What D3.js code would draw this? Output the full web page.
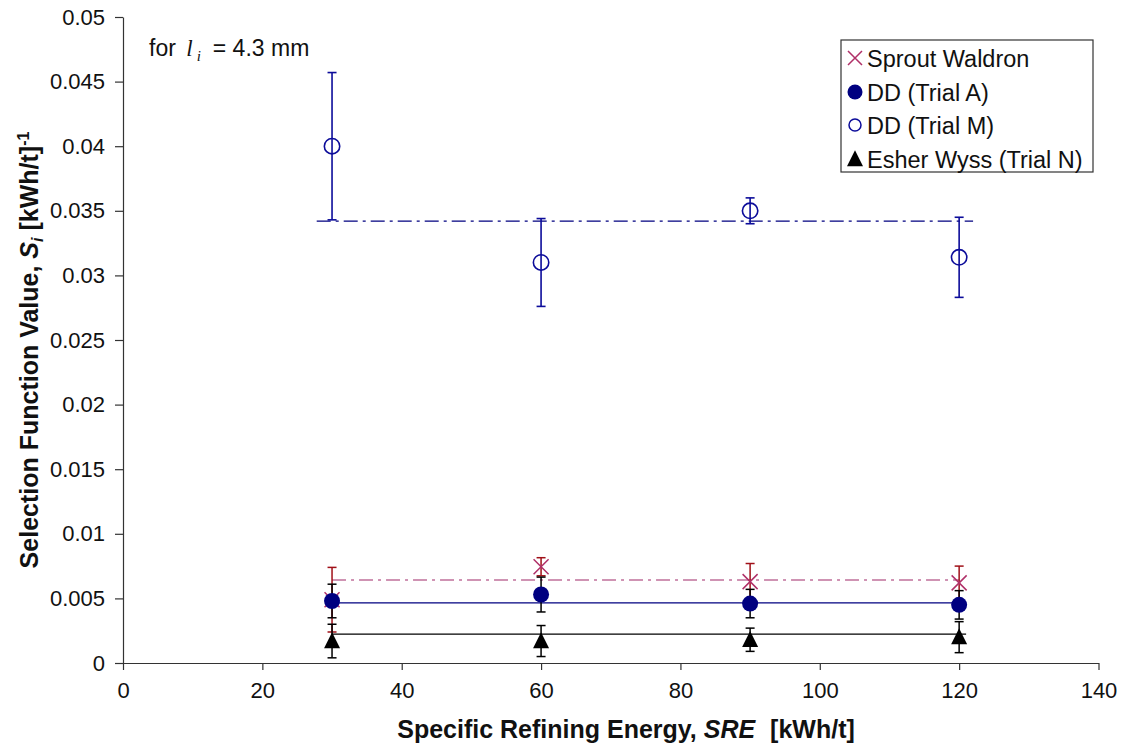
<!DOCTYPE html>
<html><head><meta charset="utf-8">
<script src="https://cdn.jsdelivr.net/npm/d3@7"></script>
<style>body{margin:0;background:#fff;} svg{display:block;font-family:"Liberation Sans",Arial,sans-serif;}</style>
</head><body>
<svg id="c" width="1123" height="750"></svg>
<script>
const xValues = [30, 60, 90, 120];
const xTicks = [0, 20, 40, 60, 80, 100, 120, 140];
const yTicks = [0, 0.005, 0.01, 0.015, 0.02, 0.025, 0.03, 0.035, 0.04, 0.045, 0.05];
const yTickLabels = ["0", "0.005", "0.01", "0.015", "0.02", "0.025", "0.03", "0.035", "0.04", "0.045", "0.05"];
const seriesNames = ["Sprout Waldron", "DD (Trial A)", "DD (Trial M)", "Esher Wyss (Trial N)"];
const swValues = [0.0049, 0.00745, 0.0063, 0.0062];
const swErr = [0.0025, 0.0007, 0.0014, 0.0013];
const ddAValues = [0.0048, 0.0053, 0.0046, 0.0045];
const ddAErr = [0.0013, 0.00135, 0.0011, 0.0011];
const ddMValues = [0.0400, 0.0310, 0.0350, 0.0314];
const ddMErr = [0.0057, 0.0034, 0.0010, 0.0031];
const ewValues = [0.0017, 0.0017, 0.0018, 0.0020];
const ewErr = [0.0013, 0.0012, 0.0009, 0.0012];
// average lines: [value, xStart, xEnd]
const swMean = [0.00642, 30, 120];
const ddAMean = [0.00465, 30, 120];
const ddMMean = [0.0342, 27.8, 122];
const ewMean = [0.00224, 30, 121];

const svg = d3.select("#c");
const x = d3.scaleLinear().domain([0, 140]).range([123, 1098.5]);
const y = d3.scaleLinear().domain([0, 0.05]).range([663, 17]);

const colM = "#0c0c9a", colA = "#000080", colSW = "#b03068", colSWerr = "#a01018", colSWline = "#c0709a";

// axes
const yAxis = d3.axisLeft(y).tickValues(yTicks).tickFormat((d, i) => yTickLabels[i]).tickSize(8).tickSizeOuter(0).tickPadding(10);
const gy = svg.append("g").attr("transform", `translate(${x(0)},0)`).call(yAxis);
const xAxis = d3.axisBottom(x).tickValues(xTicks).tickSize(7).tickSizeOuter(0).tickPadding(12);
const gx = svg.append("g").attr("transform", `translate(0,${y(0)})`).call(xAxis);
[gx, gy].forEach(g => {
  g.selectAll("path,line").attr("stroke", "#333").attr("stroke-width", 1.2);
  g.selectAll("text").attr("font-size", 22).attr("fill", "#111").attr("font-family", '"Liberation Sans",Arial,sans-serif');
});

// mean lines
function meanLine(m, color, dash, w) {
  svg.append("line").attr("x1", x(m[1])).attr("x2", x(m[2])).attr("y1", y(m[0])).attr("y2", y(m[0]))
    .attr("stroke", color).attr("stroke-width", w).attr("stroke-dasharray", dash);
}
meanLine(ddMMean, colA, "14,5,3,5", 1.3);
meanLine(swMean, colSWline, "14,5,3,5", 1.5);
meanLine(ddAMean, colA, null, 1.3);
meanLine(ewMean, "#000", null, 1.3);

function errorBars(vals, errs, color, w) {
  const g = svg.append("g").attr("stroke", color).attr("stroke-width", w);
  xValues.forEach((xv, i) => {
    const cx = x(xv), top = y(vals[i] + errs[i]), bot = y(vals[i] - errs[i]);
    g.append("line").attr("x1", cx).attr("x2", cx).attr("y1", top).attr("y2", bot);
    g.append("line").attr("x1", cx - 4.5).attr("x2", cx + 4.5).attr("y1", top).attr("y2", top);
    g.append("line").attr("x1", cx - 4.5).attr("x2", cx + 4.5).attr("y1", bot).attr("y2", bot);
  });
}
function drawX(g, cx, cy, r, color) {
  g.append("path").attr("d", `M${cx - r},${cy - r}L${cx + r},${cy + r}M${cx - r},${cy + r}L${cx + r},${cy - r}`)
    .attr("stroke", color).attr("stroke-width", 1.5).attr("fill", "none");
}
function drawTri(g, cx, cy, s, color) {
  g.append("path").attr("d", `M${cx},${cy - s * 0.55}L${cx + s / 2},${cy + s * 0.45}L${cx - s / 2},${cy + s * 0.45}Z`).attr("fill", color);
}

// Sprout Waldron
errorBars(swValues, swErr, colSWerr, 1.5);
const gsw = svg.append("g");
xValues.forEach((xv, i) => drawX(gsw, x(xv), y(swValues[i]), 7.5, colSW));
// DD A
errorBars(ddAValues, ddAErr, "#000", 1.5);
svg.append("g").selectAll("circle").data(xValues).join("circle")
  .attr("cx", d => x(d)).attr("cy", (d, i) => y(ddAValues[i])).attr("r", 8).attr("fill", colA);
// DD M
errorBars(ddMValues, ddMErr, colM, 1.6);
svg.append("g").selectAll("circle").data(xValues).join("circle")
  .attr("cx", d => x(d)).attr("cy", (d, i) => y(ddMValues[i])).attr("r", 7.7).attr("fill", "none")
  .attr("stroke", colM).attr("stroke-width", 1.6);
// Esher Wyss
errorBars(ewValues, ewErr, "#000", 1.5);
const gew = svg.append("g");
xValues.forEach((xv, i) => drawTri(gew, x(xv), y(ewValues[i]), 16, "#000"));

// legend
const lg = svg.append("g");
lg.append("rect").attr("x", 841).attr("y", 40).attr("width", 252).attr("height", 132)
  .attr("fill", "#fff").attr("stroke", "#333").attr("stroke-width", 1.2);
const rowsY = [58, 92, 125, 159];
drawX(lg, 855, rowsY[0], 7, colSW);
lg.append("circle").attr("cx", 855).attr("cy", rowsY[1]).attr("r", 7.5).attr("fill", colA);
lg.append("circle").attr("cx", 855).attr("cy", rowsY[2]).attr("r", 6).attr("fill", "none").attr("stroke", colM).attr("stroke-width", 1.5);
drawTri(lg, 855, rowsY[3], 16, "#000");
seriesNames.forEach((n, i) => {
  lg.append("text").attr("x", 867).attr("y", rowsY[i] + 8.5).attr("font-size", 23.5).attr("fill", "#111").text(n);
});

// annotation
const ann = svg.append("text").attr("x", 149).attr("y", 56).attr("font-size", 23).attr("fill", "#111");
ann.append("tspan").text("for ");
ann.append("tspan").attr("font-family", '"Liberation Serif","Times New Roman",serif').attr("font-style", "italic").attr("dx", 4).text("l");
ann.append("tspan").attr("font-family", '"Liberation Serif","Times New Roman",serif').attr("font-style", "italic").attr("font-size", 15).attr("dx", 4).attr("dy", 5).text("i");
ann.append("tspan").attr("dx", 12).attr("dy", -5).text("= 4.3 mm");

// axis titles
const xt = svg.append("text").attr("x", 626).attr("y", 738).attr("text-anchor", "middle")
  .attr("font-size", 25).attr("font-weight", "bold").attr("fill", "#111");
xt.append("tspan").text("Specific Refining Energy, ");
xt.append("tspan").attr("font-style", "italic").text("SRE");
xt.append("tspan").attr("dx", 8).text(" [kWh/t]");

const yt = svg.append("text").attr("transform", "translate(38,350) rotate(-90)").attr("text-anchor", "middle")
  .attr("font-size", 25).attr("font-weight", "bold").attr("fill", "#111");
yt.append("tspan").text("Selection Function Value, ");
yt.append("tspan").attr("font-style", "italic").text("S");
yt.append("tspan").attr("font-style", "italic").attr("font-size", 16).attr("dy", 5).text("i");
yt.append("tspan").attr("dy", -5).text(" [kWh/t]");
yt.append("tspan").attr("font-size", 16).attr("dy", -9).text("-1");
</script>
</body></html>
